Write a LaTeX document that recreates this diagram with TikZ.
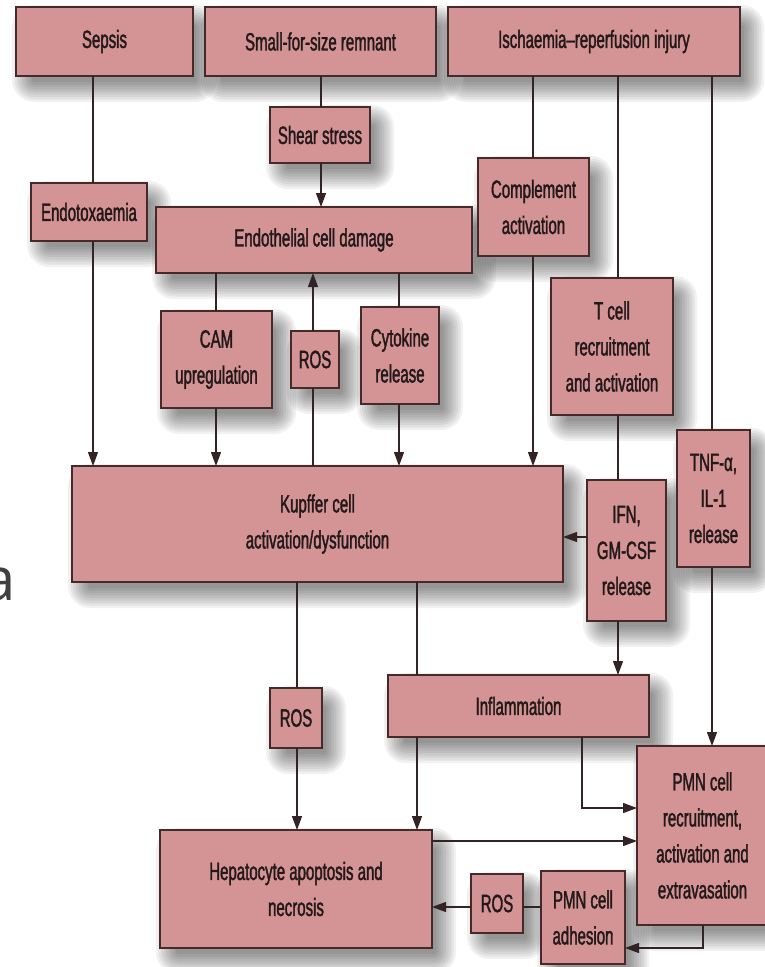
\documentclass[tikz,border=0pt]{standalone}
\usepackage{fontspec}
\setmainfont{Liberation Sans}[FakeStretch=0.6,FakeBold=1.5]
\newfontfamily\afont{Open Sans}
\usetikzlibrary{arrows.meta,backgrounds}
\definecolor{boxfill}{RGB}{212,148,150}
\definecolor{boxline}{RGB}{70,42,42}
\definecolor{conn}{RGB}{50,36,36}
\definecolor{txt}{RGB}{35,25,25}
\tikzset{
  box/.style={draw=boxline, fill=boxfill, line width=1.3pt, inner sep=0pt, outer sep=0pt,
    align=center, font=\fontsize{25}{36}\selectfont, text=txt},
  link/.style={draw=conn, line width=1.2pt},
  arr/.style={link, -{Triangle[length=14pt,width=10pt]}},
  shadlayer/.style={fill=black, opacity=0.055}
}
\newcommand\bx[6]{\node[box, minimum width={(#4-#2)*1pt}, minimum height={(#5-#3)*1pt}] (#1) at ({(#2+#4)/2},{(#3+#5)/2}) {#6};}
\begin{document}
\begin{tikzpicture}[x=1pt,y=-1pt]
\useasboundingbox (0,0) rectangle (765,967);
\node[anchor=base east, inner sep=0pt, font=\afont\fontsize{60}{60}\selectfont, text=black!75] (aletter) at (16,600) {a};
\bx{sepsis}{16}{7}{193}{76}{Sepsis}
\bx{sfs}{205}{7}{436}{76}{Small-for-size remnant}
\bx{isch}{448}{7}{740}{76}{Ischaemia–reperfusion injury}
\bx{shear}{270}{107}{370}{163}{Shear stress}
\bx{endotox}{31}{183}{147}{241}{Endotoxaemia}
\bx{endo}{156}{207}{472}{273}{Endothelial cell damage}
\bx{compl}{478}{158}{589}{256}{Complement\\activation}
\bx{tcell}{551}{278}{673}{415}{T cell\\recruitment\\and activation}
\bx{cam}{161}{311}{272}{408}{CAM\\upregulation}
\bx{ros1}{291}{331}{339}{388}{ROS}
\bx{cyto}{361}{307}{439}{404}{Cytokine\\release}
\bx{kupffer}{72}{466}{563}{582}{Kupffer cell\\activation/dysfunction}
\bx{ifn}{587}{480}{666}{621}{IFN,\\GM-CSF\\release}
\bx{tnf}{677}{430}{750}{567}{TNF-α,\\IL-1\\release}
\bx{ros2}{270}{688}{322}{748}{ROS}
\bx{infl}{388}{675}{649}{737}{Inflammation}
\bx{pmn}{637}{746}{768}{925}{PMN cell\\recruitment,\\activation and\\extravasation}
\bx{hep}{160}{830}{432}{948}{Hepatocyte apoptosis and\\necrosis}
\bx{ros3}{471}{874}{523}{933}{ROS}
\bx{adh}{541}{871}{625}{964}{PMN cell\\adhesion}
\begin{scope}[on background layer]
\fill[white] (0,0) rectangle (765,967);
\foreach \n in {sepsis,sfs,isch,shear,endotox,endo,compl,tcell,cam,ros1,cyto,kupffer,ifn,tnf,ros2,infl,pmn,hep,ros3,adh}{
  \foreach \k in {0,...,8}{
    \pgfmathsetmacro\e{\k*2.5-6}
    \pgfmathsetmacro\r{\k*2.5+2}
    \fill[shadlayer, rounded corners=\r pt]
      ([shift={({10-\e},{12-\e})}]\n.north west) rectangle ([shift={({10+\e},{12+\e})}]\n.south east);
  }
}
\end{scope}
\coordinate (v93) at (93,0);
\coordinate (v321) at (321,0);
\coordinate (v216) at (216,0);
\coordinate (v313) at (313,0);
\coordinate (v399) at (399,0);
\coordinate (v533) at (533,0);
\coordinate (v618) at (618,0);
\coordinate (v712) at (712,0);
\coordinate (v297) at (297,0);
\coordinate (v417) at (417,0);
\coordinate (v582) at (582,0);
\coordinate (v703) at (703,0);
\coordinate (h537) at (0,537);
\coordinate (h808) at (0,808);
\coordinate (h841) at (0,841);
\coordinate (h948) at (0,948);
\coordinate (h907) at (0,907);
\draw[link] (sepsis.south -| v93) -- (endotox.north -| v93);
\draw[arr] (endotox.south -| v93) -- (kupffer.north -| v93);
\draw[link] (sfs.south -| v321) -- (shear.north -| v321);
\draw[arr] (shear.south -| v321) -- (endo.north -| v321);
\draw[link] (endo.south -| v216) -- (cam.north -| v216);
\draw[arr] (cam.south -| v216) -- (kupffer.north -| v216);
\draw[link] (kupffer.north -| v313) -- (ros1.south -| v313);
\draw[arr] (ros1.north -| v313) -- (endo.south -| v313);
\draw[link] (endo.south -| v399) -- (cyto.north -| v399);
\draw[arr] (cyto.south -| v399) -- (kupffer.north -| v399);
\draw[link] (isch.south -| v533) -- (compl.north -| v533);
\draw[arr] (compl.south -| v533) -- (kupffer.north -| v533);
\draw[link] (isch.south -| v618) -- (tcell.north -| v618);
\draw[link] (tcell.south -| v618) -- (ifn.north -| v618);
\draw[arr] (ifn.south -| v618) -- (infl.north -| v618);
\draw[arr] (ifn.west |- h537) -- (kupffer.east |- h537);
\draw[link] (isch.south -| v712) -- (tnf.north -| v712);
\draw[arr] (tnf.south -| v712) -- (pmn.north -| v712);
\draw[link] (kupffer.south -| v297) -- (ros2.north -| v297);
\draw[arr] (ros2.south -| v297) -- (hep.north -| v297);
\draw[link] (kupffer.south -| v417) -- (infl.north -| v417);
\draw[arr] (infl.south -| v417) -- (hep.north -| v417);
\draw[arr] (infl.south -| v582) |- (pmn.west |- h808);
\draw[arr] (hep.east |- h841) -- (pmn.west |- h841);
\draw[arr] (pmn.south -| v703) |- (adh.east |- h948);
\draw[link] (adh.west |- h907) -- (ros3.east |- h907);
\draw[arr] (ros3.west |- h907) -- (hep.east |- h907);
\end{tikzpicture}
\end{document}
